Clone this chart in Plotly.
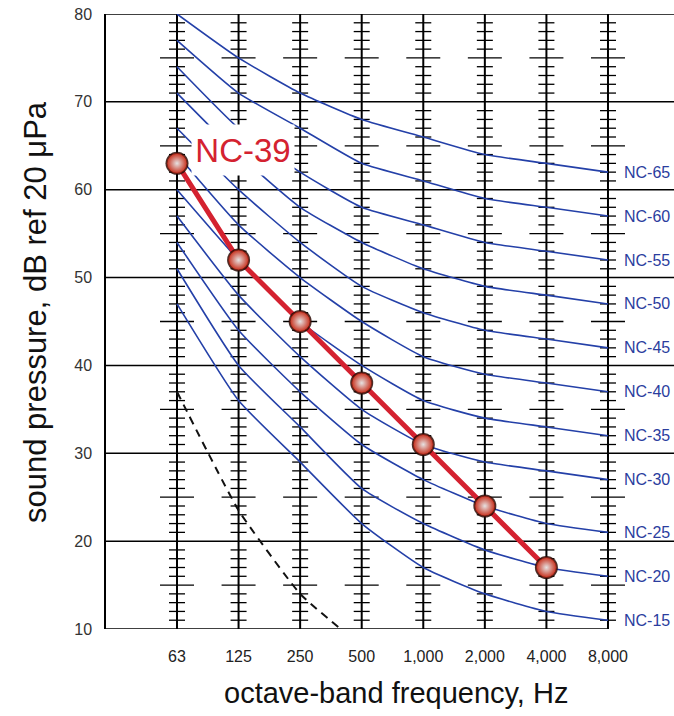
import plotly.graph_objects as go

# ---------------- data ----------------
freq_labels = ["63", "125", "250", "500", "1,000", "2,000", "4,000", "8,000"]
nc_names = ["NC-15", "NC-20", "NC-25", "NC-30", "NC-35", "NC-40",
            "NC-45", "NC-50", "NC-55", "NC-60", "NC-65"]
nc15 = [47, 36, 29, 22, 17, 14, 12, 11]
nc20 = [51, 40, 33, 26, 22, 19, 17, 16]
nc25 = [54, 44, 37, 31, 27, 24, 22, 21]
nc30 = [57, 48, 41, 35, 31, 29, 28, 27]
nc35 = [60, 52, 45, 40, 36, 34, 33, 32]
nc40 = [64, 56, 50, 45, 41, 39, 38, 37]
nc45 = [67, 60, 54, 49, 46, 44, 43, 42]
nc50 = [71, 64, 58, 54, 51, 49, 48, 47]
nc55 = [74, 67, 62, 58, 56, 54, 53, 52]
nc60 = [77, 71, 67, 63, 61, 59, 58, 57]
nc65 = [80, 75, 71, 68, 66, 64, 63, 62]
nc_curves = [nc15, nc20, nc25, nc30, nc35, nc40, nc45, nc50, nc55, nc60, nc65]

measured_label = "NC-39"
measured = [63, 52, 45, 38, 31, 24, 17]          # 63 Hz .. 4,000 Hz
threshold = [37, 23.5, 14, 8]                    # dashed curve, 63 .. 500 Hz

y_ticks = [10, 20, 30, 40, 50, 60, 70, 80]

# ---------------- layout constants ----------------
W, H = 674, 716
ML, MR, MT, MB = 106, 0, 14, 87
col_px = 61.57
x_lo = -(177 - ML) / col_px
x_hi = (W - 177) / col_px
y_lo, y_hi = 10, 80

idx = list(range(len(freq_labels)))
blue = "#2440a8"
label_blue = "#2b3d9e"
red = "#d42230"

fig = go.Figure()

# vertical scale columns
cx, cy = [], []
for i in idx:
    cx += [i, i, None]
    cy += [y_lo, y_hi, None]
fig.add_trace(go.Scatter(x=cx, y=cy, mode="lines",
                         line=dict(color="black", width=2),
                         hoverinfo="skip", showlegend=False))

# 1 dB ticks (longer at every 5 dB)
tx, ty = [], []
short_h = 8 / col_px
long_h = 17 / col_px
for i in idx:
    for v in range(y_lo + 1, y_hi):
        if v % 10 == 0:
            continue
        h = long_h if v % 5 == 0 else short_h
        tx += [i - h, i + h, None]
        ty += [v, v, None]
fig.add_trace(go.Scatter(x=tx, y=ty, mode="lines",
                         line=dict(color="black", width=1.3),
                         hoverinfo="skip", showlegend=False))

# NC curves
for name, vals in zip(nc_names, nc_curves):
    fig.add_trace(go.Scatter(x=idx, y=vals, mode="lines", name=name,
                             line=dict(color=blue, width=1.6, shape="spline", smoothing=0.5),
                             hoverinfo="skip", showlegend=False))

# dashed threshold curve
fig.add_trace(go.Scatter(x=idx[:len(threshold)], y=threshold, mode="lines",
                         line=dict(color="#111111", width=2, dash="8px,6px",
                                   shape="spline", smoothing=0.4),
                         hoverinfo="skip", showlegend=False))

# measured spectrum
fig.add_trace(go.Scatter(x=idx[:len(measured)], y=measured, mode="lines",
                         line=dict(color=red, width=5),
                         hoverinfo="skip", showlegend=False))
fig.add_trace(go.Scatter(x=idx[:len(measured)], y=measured, mode="markers",
                         marker=dict(size=23, color="rgba(40,10,5,0.85)"),
                         hoverinfo="skip", showlegend=False))
fig.add_trace(go.Scatter(x=idx[:len(measured)], y=measured, mode="markers",
                         marker=dict(size=20, color="#c8321f",
                                     gradient=dict(type="radial", color="#e6e2e2"),
                                     line=dict(color="#7a1a10", width=0.8)),
                         hoverinfo="skip", showlegend=False))

# horizontal grid / frame
shapes = []
for v in y_ticks[1:]:
    shapes.append(dict(type="line", xref="paper", yref="y", x0=0, x1=1, y0=v, y1=v,
                       line=dict(color="black", width=1.5), layer="below"))
shapes.append(dict(type="line", xref="x", yref="y", x0=x_lo, x1=idx[-1], y0=y_lo, y1=y_lo,
                   line=dict(color="black", width=1.5), layer="below"))

annotations = []
for name, vals in zip(nc_names, nc_curves):
    annotations.append(dict(x=idx[-1], y=vals[-1], xref="x", yref="y", text=name,
                            showarrow=False, xanchor="left", yanchor="middle", xshift=14,
                            font=dict(family="Liberation Sans, Arial, sans-serif",
                                      size=16, color=label_blue)))

annotations.append(dict(x=(243 - 177) / col_px, y=y_hi - (150 - MT) / 8.786,
                        xref="x", yref="y", text=measured_label, showarrow=False,
                        xanchor="center", yanchor="middle",
                        width=100, height=48, bgcolor="white",
                        font=dict(family="Liberation Sans, Arial", size=33, color=red)))

plot_w = W - ML - MR
plot_h = H - MT - MB
annotations.append(dict(x=(396 - ML) / plot_w, y=(H - MB - 693) / plot_h,
                        xref="paper", yref="paper", text="octave-band frequency, Hz",
                        showarrow=False, xanchor="center", yanchor="middle",
                        font=dict(family="Liberation Sans, Arial", size=29, color="#111111")))
annotations.append(dict(x=(36 - ML) / plot_w, y=(H - MB - 312) / plot_h,
                        xref="paper", yref="paper", text="sound pressure, dB ref 20 μPa",
                        showarrow=False, xanchor="center", yanchor="middle", textangle=-90,
                        font=dict(family="Liberation Sans, Arial", size=31, color="#111111")))

fig.update_layout(
    width=W, height=H,
    margin=dict(l=ML, r=MR, t=MT, b=MB, pad=0),
    paper_bgcolor="white", plot_bgcolor="white",
    shapes=shapes, annotations=annotations,
    showlegend=False,
    xaxis=dict(range=[x_lo, x_hi], tickmode="array", tickvals=idx, ticktext=freq_labels,
               showgrid=False, zeroline=False, showline=False, ticks="",
               ticklabelstandoff=16,
               tickfont=dict(family="Liberation Sans, Arial", size=16, color="#222222")),
    yaxis=dict(range=[y_lo, y_hi], tickmode="array", tickvals=y_ticks,
               showgrid=False, zeroline=False, showline=True, linecolor="black", linewidth=1.5,
               ticks="", ticklabelstandoff=9,
               tickfont=dict(family="Liberation Sans, Arial", size=16, color="#333333")),
)

fig.write_html("out.html")
